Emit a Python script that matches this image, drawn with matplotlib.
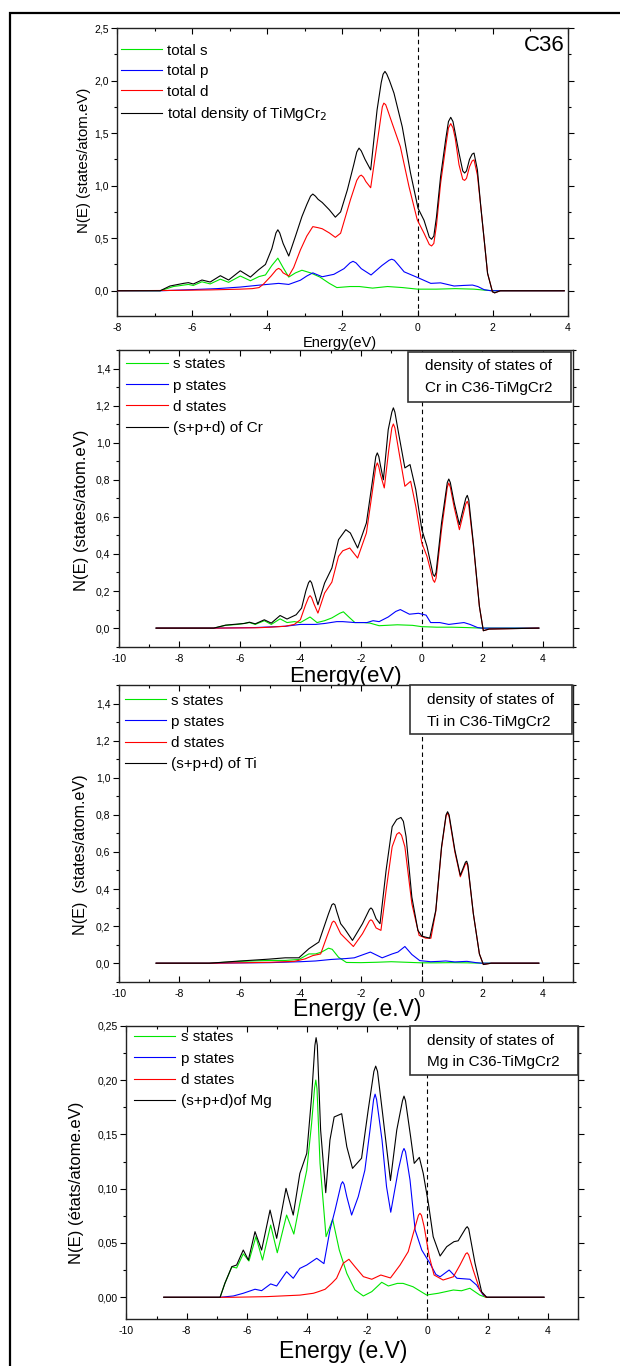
import matplotlib
matplotlib.use("Agg")
import matplotlib.pyplot as plt
from matplotlib.patches import Rectangle
from matplotlib.ticker import MultipleLocator, FuncFormatter

plt.rcParams['font.family'] = ['Liberation Sans', 'DejaVu Sans']

# ---- panel 1 : total DOS of C36 TiMgCr2 ----
tot_s_e = [-8.0, -6.85, -6.5, -6.1, -5.97, -5.74, -5.52, -5.25, -5.03, -4.72, -4.45, -4.22, -4.05, -3.88,
           -3.72, -3.58, -3.43, -3.25, -3.08, -2.85, -2.6, -2.35, -2.15, -1.8, -1.55, -1.2, -0.8, -0.4,
           0.0, 0.5, 1.0, 1.5, 1.8, 2.0, 3.9]
tot_s = [0, 0, 0.04, 0.06, 0.05, 0.085, 0.065, 0.11, 0.08, 0.14, 0.095, 0.135, 0.15, 0.24,
         0.31, 0.22, 0.13, 0.17, 0.195, 0.17, 0.13, 0.07, 0.03, 0.04, 0.04, 0.025, 0.04, 0.03,
         0.015, 0.015, 0.02, 0.015, 0.005, 0, 0]
tot_p_e = [-8.0, -6.8, -6.2, -5.34, -4.72, -4.19, -3.7, -3.43, -3.12, -2.95, -2.79, -2.54, -2.23, -1.96,
           -1.8, -1.72, -1.64, -1.5, -1.24, -0.95, -0.76, -0.69, -0.62, -0.5, -0.36, 0.01, 0.35, 0.61, 0.97,
           1.2, 1.46, 1.6, 1.77, 1.95, 3.9]
tot_p = [0, 0, 0.008, 0.02, 0.035, 0.054, 0.07, 0.06, 0.10, 0.14, 0.17, 0.133, 0.156, 0.21,
         0.265, 0.28, 0.265, 0.21, 0.15, 0.24, 0.29, 0.30, 0.29, 0.24, 0.18, 0.124, 0.07, 0.075, 0.045,
         0.05, 0.054, 0.04, 0.01, 0, 0]
tot_d_e = [-8.0, -6.5, -5.5, -4.72, -4.4, -4.22, -4.1, -3.9, -3.76, -3.7, -3.64, -3.58, -3.43, -3.3, -3.12,
           -2.95, -2.79, -2.65, -2.54, -2.35, -2.19, -2.05, -1.79, -1.62, -1.55, -1.5, -1.44, -1.38, -1.25,
           -1.08, -0.98, -0.94, -0.9, -0.85, -0.8, -0.68, -0.46, -0.23, -0.01, 0.17, 0.31, 0.37, 0.43, 0.5,
           0.61, 0.75, 0.82, 0.88, 0.94, 1.0, 1.1, 1.2, 1.25, 1.3, 1.38, 1.45, 1.5, 1.59, 1.68, 1.78, 1.86,
           1.99, 2.05, 2.2, 3.9]
tot_d = [0, 0.003, 0.008, 0.015, 0.02, 0.03, 0.064, 0.14, 0.2, 0.213, 0.2, 0.17, 0.14, 0.22, 0.388,
         0.52, 0.61, 0.6, 0.59, 0.55, 0.508, 0.547, 0.864, 1.05, 1.09, 1.10, 1.08, 1.04, 0.98,
         1.40, 1.65, 1.75, 1.785, 1.77, 1.72, 1.595, 1.37, 0.99, 0.674, 0.547, 0.44, 0.426, 0.45, 0.62,
         1.02, 1.38, 1.55, 1.59, 1.55, 1.45, 1.2, 1.06, 1.05, 1.07, 1.18, 1.235, 1.245, 1.1, 0.8, 0.45, 0.166,
         -0.01, -0.02, 0, 0]
tot_all_e = [-8.0, -6.85, -6.59, -6.23, -6.1, -5.97, -5.74, -5.52, -5.25, -5.03, -4.72, -4.45, -4.23,
             -4.05, -3.88, -3.77, -3.72, -3.67, -3.58, -3.43, -3.25, -3.08, -2.95, -2.85, -2.79, -2.72,
             -2.65, -2.54, -2.35, -2.19, -2.05, -1.87, -1.7, -1.62, -1.56, -1.5, -1.4, -1.25, -1.08, -0.97,
             -0.92, -0.87, -0.82, -0.75, -0.63, -0.41, -0.19, 0.01, 0.17, 0.31, 0.37, 0.43, 0.5, 0.61, 0.75,
             0.82, 0.88, 0.94, 1.0, 1.1, 1.2, 1.25, 1.3, 1.38, 1.45, 1.5, 1.59, 1.68, 1.78, 1.86, 1.99,
             2.05, 2.2, 3.9]
tot_all = [0, 0, 0.045, 0.07, 0.077, 0.064, 0.102, 0.083, 0.143, 0.102, 0.19, 0.13, 0.2,
           0.25, 0.40, 0.55, 0.58, 0.55, 0.45, 0.33, 0.52, 0.705, 0.82, 0.9, 0.92, 0.9,
           0.87, 0.84, 0.77, 0.70, 0.75, 0.96, 1.2, 1.32, 1.357, 1.33, 1.25, 1.15, 1.72, 1.98,
           2.06, 2.087, 2.06, 2.0, 1.88, 1.56, 1.12, 0.785, 0.67, 0.51, 0.49, 0.52, 0.7, 1.086, 1.45,
           1.61, 1.65, 1.61, 1.5, 1.31, 1.14, 1.12, 1.14, 1.25, 1.3, 1.31, 1.15, 0.80, 0.45, 0.166, -0.01,
           -0.02, 0, 0]

# ---- panel 2 : Cr ----
cr_s_e = [-8.76, -6.86, -6.47, -6.07, -5.68, -5.49, -5.19, -4.96, -4.67, -4.44, -4.2, -4.0, -3.68, -3.45,
          -3.2, -2.96, -2.7, -2.58, -2.4, -2.2, -1.9, -1.7, -1.4, -0.8, -0.3, 0.0, 0.5, 1.0, 1.5, 2.0, 3.87]
cr_s = [0, 0, 0.015, 0.02, 0.03, 0.02, 0.04, 0.02, 0.05, 0.03, 0.035, 0.03, 0.06, 0.03,
        0.04, 0.055, 0.08, 0.088, 0.06, 0.03, 0.03, 0.027, 0.013, 0.018, 0.015, 0.008, 0.005, 0.005, 0.003, 0, 0]
cr_p_e = [-8.76, -6.8, -5.5, -4.5, -4.0, -3.5, -3.2, -2.8, -2.6, -2.2, -1.8, -1.6, -1.4, -1.1, -0.85, -0.7,
          -0.4, -0.1, 0.15, 0.3, 0.6, 0.9, 1.15, 1.4, 1.6, 1.85, 2.0, 3.87]
cr_p = [0, 0, 0.003, 0.01, 0.02, 0.02, 0.025, 0.035, 0.035, 0.03, 0.03, 0.04, 0.035, 0.06, 0.09, 0.1,
        0.075, 0.08, 0.07, 0.03, 0.03, 0.02, 0.025, 0.03, 0.02, 0.003, 0, 0]
cr_d_e = [-8.76, -6.9, -5.4, -5.0, -4.5, -4.2, -4.0, -3.84, -3.73, -3.68, -3.63, -3.55, -3.42, -3.2, -2.96,
          -2.74, -2.6, -2.37, -2.11, -1.82, -1.63, -1.51, -1.46, -1.41, -1.36, -1.23, -1.08, -0.98, -0.93,
          -0.88, -0.74, -0.55, -0.36, -0.19, 0.01, 0.18, 0.38, 0.43, 0.48, 0.66, 0.85, 0.9, 0.95, 1.08, 1.25,
          1.46, 1.51, 1.56, 1.71, 1.91, 2.04, 2.23, 3.87]
cr_d = [0, 0, 0.002, 0.005, 0.01, 0.02, 0.045, 0.12, 0.165, 0.175, 0.165, 0.13, 0.081, 0.189, 0.248,
        0.387, 0.417, 0.432, 0.378, 0.513, 0.729, 0.87, 0.891, 0.87, 0.83, 0.756, 0.963, 1.08, 1.101,
        1.08, 0.945, 0.765, 0.792, 0.657, 0.459, 0.387, 0.26, 0.247, 0.27, 0.531, 0.76, 0.783, 0.76, 0.65,
        0.531, 0.67, 0.684, 0.66, 0.45, 0.117, -0.014, -0.005, 0]
cr_all_e = [-8.76, -6.86, -6.47, -6.07, -5.85, -5.68, -5.49, -5.19, -4.96, -4.67, -4.44, -4.14, -3.96, -3.82,
            -3.73, -3.68, -3.63, -3.55, -3.42, -3.2, -2.96, -2.74, -2.5, -2.35, -2.11, -1.82, -1.63, -1.51,
            -1.46, -1.41, -1.36, -1.26, -1.1, -0.98, -0.93, -0.88, -0.74, -0.55, -0.38, -0.19, 0.01, 0.18,
            0.38, 0.43, 0.48, 0.66, 0.85, 0.9, 0.95, 1.08, 1.25, 1.46, 1.51, 1.56, 1.71, 1.91, 2.04, 2.23, 3.87]
cr_all = [0, 0, 0.016, 0.022, 0.025, 0.032, 0.023, 0.045, 0.027, 0.068, 0.049, 0.072, 0.108, 0.2,
          0.245, 0.256, 0.245, 0.2, 0.126, 0.243, 0.324, 0.477, 0.531, 0.513, 0.432, 0.567, 0.783, 0.925,
          0.945, 0.925, 0.88, 0.80, 1.07, 1.165, 1.188, 1.165, 1.035, 0.864, 0.882, 0.747, 0.531, 0.441,
          0.29, 0.279, 0.30, 0.567, 0.785, 0.804, 0.785, 0.675, 0.558, 0.70, 0.716, 0.69, 0.459, 0.117, -0.014,
          -0.005, 0]

# ---- panel 3 : Ti ----
ti_s_e = [-8.76, -7.0, -6.5, -6.0, -5.0, -4.5, -4.05, -3.72, -3.5, -3.3, -3.07, -2.95, -2.74, -2.48, -2.0,
          -1.5, -1.0, -0.5, 0.0, 0.5, 1.0, 1.5, 2.0, 3.87]
ti_s = [0, 0, 0.005, 0.01, 0.015, 0.015, 0.02, 0.05, 0.05, 0.06, 0.081, 0.075, 0.032, 0.004, 0.003,
        0.005, 0.008, 0.005, 0.002, 0.002, 0.003, 0.002, 0, 0]
ti_p_e = [-8.76, -7.0, -5.0, -4.0, -3.5, -3.0, -2.5, -2.22, -1.69, -1.3, -0.97, -0.78, -0.55, -0.32, -0.06,
          0.3, 0.6, 0.8, 1.1, 1.5, 1.8, 2.0, 3.87]
ti_p = [0, 0, 0.003, 0.008, 0.012, 0.02, 0.025, 0.029, 0.06, 0.029, 0.05, 0.06, 0.09, 0.047, 0.014,
        0.008, 0.01, 0.012, 0.007, 0.01, 0.003, 0, 0]
ti_d_e = [-8.76, -7.0, -6.0, -5.0, -4.2, -3.85, -3.59, -3.33, -3.13, -2.95, -2.9, -2.85, -2.67, -2.25, -1.95,
          -1.72, -1.67, -1.62, -1.5, -1.34, -1.17, -0.97, -0.82, -0.74, -0.66, -0.55, -0.32, -0.08, 0.14, 0.31,
          0.47, 0.66, 0.81, 0.86, 0.91, 1.1, 1.28, 1.45, 1.49, 1.53, 1.71, 1.91, 2.04, 2.3, 3.87]
ti_d = [0, 0, 0.002, 0.005, 0.01, 0.023, 0.041, 0.05, 0.141, 0.22, 0.227, 0.22, 0.159, 0.09, 0.159,
        0.228, 0.234, 0.228, 0.19, 0.177, 0.393, 0.628, 0.695, 0.705, 0.69, 0.628, 0.321, 0.15, 0.135, 0.135,
        0.28, 0.62, 0.795, 0.81, 0.79, 0.60, 0.466, 0.535, 0.54, 0.52, 0.267, 0.05, -0.007, 0, 0]
ti_all_e = [-8.76, -7.0, -6.07, -5.03, -4.5, -4.05, -3.72, -3.52, -3.39, -3.07, -2.96, -2.91, -2.86, -2.8,
            -2.67, -2.54, -2.28, -1.95, -1.72, -1.67, -1.62, -1.5, -1.37, -1.17, -0.97, -0.82, -0.68, -0.6,
            -0.51, -0.32, -0.12, 0.01, 0.27, 0.47, 0.66, 0.81, 0.86, 0.91, 1.1, 1.28, 1.45, 1.49, 1.53, 1.71,
            1.91, 2.04, 2.3, 3.87]
ti_all = [0, 0, 0.011, 0.022, 0.029, 0.029, 0.078, 0.1, 0.114, 0.267, 0.315, 0.321, 0.315, 0.28,
          0.213, 0.186, 0.123, 0.213, 0.29, 0.298, 0.29, 0.24, 0.213, 0.501, 0.736, 0.775, 0.786, 0.765,
          0.682, 0.357, 0.177, 0.146, 0.135, 0.285, 0.628, 0.80, 0.817, 0.80, 0.61, 0.474, 0.545, 0.55, 0.53,
          0.267, 0.05, -0.007, 0, 0]

# ---- panel 4 : Mg ----
mg_s_e = [-8.76, -6.89, -6.73, -6.5, -6.34, -6.12, -5.93, -5.70, -5.48, -5.21, -4.99, -4.68, -4.44, -4.24,
          -4.01, -3.85, -3.75, -3.71, -3.67, -3.57, -3.37, -3.15, -2.93, -2.68, -2.41, -2.13, -1.85, -1.52,
          -1.3, -1.0, -0.81, -0.48, -0.03, 0.36, 0.86, 1.13, 1.41, 1.74, 1.94, 3.87]
mg_s = [0, 0, 0.0129, 0.028, 0.027, 0.04, 0.0334, 0.0558, 0.0343, 0.0665, 0.041, 0.0757, 0.0582, 0.0865,
        0.117, 0.16, 0.193, 0.2, 0.192, 0.1233, 0.0558, 0.0718, 0.0435, 0.022, 0.0068, 0.0012, 0.0052, 0.0138,
        0.0104, 0.0128, 0.0128, 0.0097, 0.0021, 0.0037, 0.0067, 0.006, 0.0083, 0.002, 0, 0]
mg_p_e = [-8.76, -6.89, -6.45, -6.12, -5.73, -5.51, -5.21, -5.01, -4.68, -4.46, -4.24, -4.01, -3.68, -3.44,
          -3.24, -3.07, -2.87, -2.82, -2.77, -2.68, -2.52, -2.30, -2.08, -1.91, -1.79, -1.74, -1.69, -1.51,
          -1.36, -1.22, -0.97, -0.83, -0.78, -0.73, -0.58, -0.41, -0.19, 0.08, 0.28, 0.42, 0.72, 0.98, 1.41,
          1.63, 1.85, 1.97, 3.87]
mg_p = [0, 0, 0.0012, 0.0037, 0.0074, 0.0061, 0.0123, 0.0104, 0.0236, 0.0175, 0.0266, 0.0297, 0.0359, 0.031,
        0.0619, 0.0803, 0.104, 0.1064, 0.104, 0.0926, 0.0757, 0.0926, 0.117, 0.154, 0.182, 0.187, 0.182,
        0.1448, 0.1018, 0.0783, 0.117, 0.134, 0.137, 0.134, 0.108, 0.062, 0.0435, 0.0313, 0.021, 0.0189,
        0.0251, 0.0175, 0.0166, 0.0113, 0.0021, 0, 0]
mg_d_e = [-8.76, -6.5, -5.34, -4.24, -3.79, -3.62, -3.40, -3.18, -3.02, -2.80, -2.61, -2.41, -2.13, -1.85,
          -1.55, -1.23, -0.91, -0.64, -0.47, -0.3, -0.25, -0.2, -0.11, 0.06, 0.22, 0.52, 0.86, 1.08, 1.27,
          1.32, 1.37, 1.52, 1.74, 1.94, 3.87]
mg_d = [0, 0, 0.0006, 0.002, 0.0037, 0.0052, 0.0074, 0.0129, 0.0175, 0.0313, 0.035, 0.0282, 0.019, 0.0166,
        0.0205, 0.0178, 0.0297, 0.042, 0.0589, 0.0755, 0.0773, 0.0755, 0.065, 0.0374, 0.0205, 0.0159, 0.0189,
        0.0297, 0.040, 0.041, 0.039, 0.0251, 0.0067, 0, 0]
mg_all_e = [-8.76, -6.89, -6.73, -6.5, -6.34, -6.12, -5.95, -5.73, -5.51, -5.23, -5.01, -4.7, -4.46, -4.24,
            -4.01, -3.85, -3.74, -3.70, -3.66, -3.55, -3.38, -3.24, -3.1, -2.85, -2.68, -2.49, -2.19, -1.97,
            -1.78, -1.72, -1.66, -1.49, -1.23, -1.02, -0.83, -0.78, -0.73, -0.56, -0.44, -0.27, -0.14, 0.03,
            0.19, 0.42, 0.64, 0.88, 1.02, 1.27, 1.32, 1.37, 1.58, 1.80, 1.97, 3.87]
mg_all = [0, 0, 0.0129, 0.0282, 0.0297, 0.0435, 0.0343, 0.0604, 0.0435, 0.0803, 0.0543, 0.1003, 0.0757, 0.114,
          0.1325, 0.1846, 0.232, 0.239, 0.232, 0.154, 0.0963, 0.1448, 0.166, 0.169, 0.1386, 0.1187, 0.128,
          0.1723, 0.208, 0.2128, 0.208, 0.169, 0.1075, 0.154, 0.181, 0.1852, 0.181, 0.1478, 0.1233, 0.1288,
          0.114, 0.0865, 0.0558, 0.038, 0.0466, 0.0512, 0.052, 0.0635, 0.065, 0.063, 0.0313, 0.005, 0, 0]

colors = ['#00e600', '#0000ff', '#ff0000', '#000000']


def comma(nd):
    return FuncFormatter(lambda v, p: f"{v:.{nd}f}".replace('.', ','))


def setup(ax, xlim, ylim, xmaj, ymaj, nd):
    ax.set_xlim(*xlim)
    ax.set_ylim(*ylim)
    ax.xaxis.set_major_locator(MultipleLocator(xmaj))
    ax.xaxis.set_minor_locator(MultipleLocator(xmaj / 2))
    ax.yaxis.set_major_locator(MultipleLocator(ymaj))
    ax.yaxis.set_minor_locator(MultipleLocator(ymaj / 2))
    ax.xaxis.set_major_formatter(FuncFormatter(lambda v, p: f"{v:.0f}"))
    ax.yaxis.set_major_formatter(comma(nd))
    ax.tick_params(axis='x', which='both', direction='in', top=True, labelsize=7.5, pad=5, width=0.8)
    ax.tick_params(axis='y', which='both', direction='out', right=True, labelsize=7.5, pad=2, width=0.8)
    ax.tick_params(which='major', length=4)
    ax.tick_params(which='minor', length=2.5)
    for sp in ax.spines.values():
        sp.set_linewidth(1.0)
        sp.set_color('#222222')
    ax.axvline(0, color='black', ls=(0, (4, 3)), lw=0.8, zorder=1)


def curves(ax, series, labels, fs, anchor, spacing):
    for (e, v), c, lab in zip(series, colors, labels):
        ax.plot(e, v, color=c, lw=0.8, label=lab, zorder=3, solid_joinstyle='round')
    ax.legend(loc='upper left', bbox_to_anchor=anchor, frameon=False, fontsize=fs,
              borderaxespad=0, borderpad=0, handlelength=2.7, handletextpad=0.35,
              labelspacing=spacing)


def infobox(ax, x0, y0, x1, y1, tx, ty, lines):
    ax.add_patch(Rectangle((x0, y0), x1 - x0, y1 - y0, transform=ax.transAxes,
                           facecolor='white', edgecolor='#333333', lw=1.2, zorder=5, clip_on=False))
    for t, yy in zip(lines, ty):
        ax.text(tx, yy, t, transform=ax.transAxes, ha='left', va='center', fontsize=11, zorder=6)


fig = plt.figure(figsize=(6.2, 13.66), dpi=100)

# panel 1
ax1 = fig.add_axes([0.1887, 0.7687, 0.7274, 0.2108])
setup(ax1, (-8, 4), (-0.24, 2.5), 2, 0.5, 1)
curves(ax1, [(tot_s_e, tot_s), (tot_p_e, tot_p), (tot_d_e, tot_d), (tot_all_e, tot_all)],
       ['total s', 'total p', 'total d', r'total density of TiMgCr$_2$'], 11,
       (0.008, 0.945), 0.42)
ax1.text(0.993, 0.94, 'C36', transform=ax1.transAxes, ha='right', va='center', fontsize=16)
ax1.set_xlabel('Energy(eV)', fontsize=10.5)
ax1.xaxis.set_label_coords(0.494, -0.093)
ax1.xaxis.label.set_va('center')
ax1.set_ylabel('N(E) (states/atom.eV)', fontsize=10.8)
ax1.yaxis.set_label_coords(-0.073, 0.54)
ax1.yaxis.label.set_va('center')

# panel 2
ax2 = fig.add_axes([0.1913, 0.5266, 0.7329, 0.2172])
setup(ax2, (-10, 5), (-0.1, 1.5), 2, 0.2, 1)
curves(ax2, [(cr_s_e, cr_s), (cr_p_e, cr_p), (cr_d_e, cr_d), (cr_all_e, cr_all)],
       ['s states', 'p states', 'd states', '(s+p+d) of Cr'], 11, (0.017, 0.975), 0.47)
infobox(ax2, 0.637, 0.825, 0.9956, 0.993, 0.674, [0.945, 0.871],
        ['density of states of', 'Cr in C36-TiMgCr2'])
ax2.set_xlabel('Energy(eV)', fontsize=16)
ax2.xaxis.set_label_coords(0.5, -0.1)
ax2.xaxis.label.set_va('center')
ax2.set_ylabel('N(E) (states/atom.eV)', fontsize=12)
ax2.yaxis.set_label_coords(-0.082, 0.46)
ax2.yaxis.label.set_va('center')

# panel 3
ax3 = fig.add_axes([0.1913, 0.2813, 0.7329, 0.2172])
setup(ax3, (-10, 5), (-0.1, 1.5), 2, 0.2, 1)
curves(ax3, [(ti_s_e, ti_s), (ti_p_e, ti_p), (ti_d_e, ti_d), (ti_all_e, ti_all)],
       ['s states', 'p states', 'd states', '(s+p+d) of Ti'], 11, (0.013, 0.971), 0.47)
infobox(ax3, 0.641, 0.835, 0.998, 1.0, 0.679, [0.95, 0.877],
        ['density of states of', 'Ti in C36-TiMgCr2'])
ax3.set_xlabel('Energy (e.V)', fontsize=16.5)
ax3.xaxis.set_label_coords(0.525, -0.092)
ax3.xaxis.label.set_va('center')
ax3.set_ylabel('N(E)  (states/atom.eV)', fontsize=11.6)
ax3.yaxis.set_label_coords(-0.083, 0.427)
ax3.yaxis.label.set_va('center')

# panel 4
ax4 = fig.add_axes([0.204, 0.0344, 0.7282, 0.2147])
setup(ax4, (-10, 5), (-0.02, 0.25), 2, 0.05, 2)
curves(ax4, [(mg_s_e, mg_s), (mg_p_e, mg_p), (mg_d_e, mg_d), (mg_all_e, mg_all)],
       ['s states', 'p states', 'd states', '(s+p+d)of Mg'], 11, (0.017, 0.984), 0.48)
infobox(ax4, 0.628, 0.832, 1.0, 1.0, 0.666, [0.949, 0.877],
        ['density of states of', 'Mg in C36-TiMgCr2'])
ax4.set_xlabel('Energy (e.V)', fontsize=16.5)
ax4.xaxis.set_label_coords(0.48, -0.111)
ax4.xaxis.label.set_va('center')
ax4.set_ylabel('N(E) (états/atome.eV)', fontsize=12)
ax4.yaxis.set_label_coords(-0.11, 0.465)
ax4.yaxis.label.set_va('center')

# outer frame of the figure
fig.add_artist(Rectangle((0.016, -0.01), 1.0, 1.0005, transform=fig.transFigure,
                         facecolor='none', edgecolor='black', lw=1.6))

fig.savefig('out.png', dpi=100)
